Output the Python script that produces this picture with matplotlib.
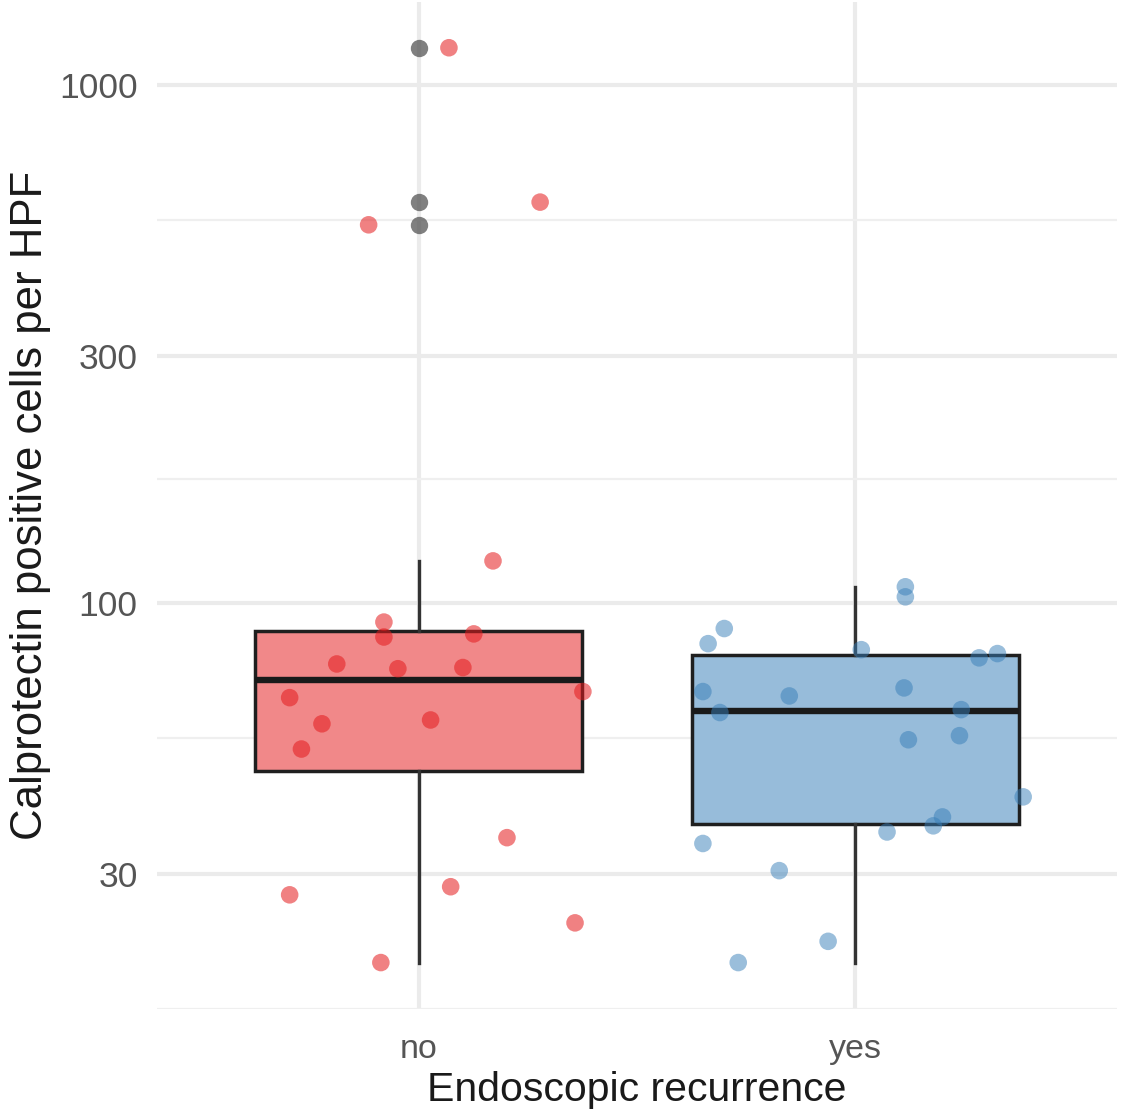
import matplotlib.pyplot as plt
import numpy as np

plt.rcParams['font.family'] = ['Liberation Sans', 'DejaVu Sans']

# calprotectin positive cells per HPF, by endoscopic recurrence
groups = ['no', 'yes']
no_values = [1180, 594, 537, 120.5, 91.8, 85.9, 87.1, 76.2, 74.6, 75.0,
             65.6, 67.4, 58.4, 59.4, 52.2, 35.2, 27.3, 28.3, 24.1, 20.2]
yes_values = [107.4, 102.7, 89.2, 83.4, 81.2, 78.3, 79.8, 67.4, 66.1, 68.5,
              61.4, 62.2, 54.4, 55.4, 42.2, 38.6, 37.1, 36.1, 34.3, 30.4,
              22.2, 20.2]
# horizontal jitter of each point (category units)
no_jitter = [0.069, 0.278, -0.115, 0.170, -0.080, -0.080, 0.126, -0.188, -0.048, 0.101,
             -0.296, 0.376, -0.222, 0.027, -0.269, 0.202, -0.296, 0.073, 0.358, -0.087]
yes_jitter = [0.115, 0.115, -0.300, -0.337, 0.014, 0.284, 0.326, -0.349, -0.151, 0.112,
              -0.310, 0.243, 0.122, 0.239, 0.385, 0.200, 0.179, 0.073, -0.349, -0.174,
              -0.062, -0.268]
yticks = [30, 100, 300, 1000]

fills = ['#E41A1C', '#377EB8']


def log_stats(vals, label):
    # box statistics on the log10 scale, as with a log-transformed axis
    lv = np.log10(vals)
    q1, med, q3 = np.percentile(lv, [25, 50, 75])
    iqr = q3 - q1
    lo_f, hi_f = q1 - 1.5 * iqr, q3 + 1.5 * iqr
    inside = lv[(lv >= lo_f) & (lv <= hi_f)]
    out = lv[(lv < lo_f) | (lv > hi_f)]
    return dict(label=label, med=10 ** med, q1=10 ** q1, q3=10 ** q3,
                whislo=10 ** inside.min(), whishi=10 ** inside.max(),
                fliers=10 ** out)


fig = plt.figure(figsize=(11.26, 11.13), dpi=100)
ax = fig.add_axes([157 / 1126, 1 - 1009 / 1113, 960 / 1126, 1007 / 1113])
ax.set_yscale('log')

stats = [log_stats(no_values, 'no'), log_stats(yes_values, 'yes')]
bp = ax.bxp(stats, positions=[1, 2], widths=0.75, patch_artist=True,
            boxprops=dict(linewidth=2.5, edgecolor='#1f1f1f'),
            medianprops=dict(linewidth=4.6, color='#1a1a1a', solid_capstyle='butt'),
            whiskerprops=dict(linewidth=2.4, color='#333333'),
            capprops=dict(linewidth=0),
            flierprops=dict(marker='o', markersize=12.5, markerfacecolor='#555555',
                            markeredgecolor='none', alpha=0.75),
            zorder=2)
for patch, c in zip(bp['boxes'], fills):
    r, g, b = plt.matplotlib.colors.to_rgb(c)
    a = 0.52
    patch.set_facecolor((1 - a + a * r, 1 - a + a * g, 1 - a + a * b))

ax.scatter(1 + np.array(no_jitter), no_values, s=160, color=fills[0], alpha=0.55,
           edgecolors='none', zorder=3)
ax.scatter(2 + np.array(yes_jitter), yes_values, s=160, color=fills[1], alpha=0.5,
           edgecolors='none', zorder=3)

# axis ranges with 5% padding on the log scale, 0.6 on the discrete axis
allv = np.log10(no_values + yes_values)
span = allv.max() - allv.min()
ax.set_ylim(10 ** (allv.min() - 0.05 * span), 10 ** (allv.max() + 0.05 * span))
ax.set_xlim(0.4, 2.6)

ax.set_yticks(yticks)
ax.set_yticklabels([str(t) for t in yticks])
minor = [np.sqrt(yticks[i] * yticks[i + 1]) for i in range(len(yticks) - 1)]
minor = [yticks[0] ** 2 / minor[0]] + minor
ax.set_yticks(minor, minor=True)
ax.yaxis.set_minor_formatter(plt.NullFormatter())
ax.set_xticks([1, 2])
ax.set_xticklabels(groups)

ax.grid(True, which='major', color='#EBEBEB', linewidth=3.0, zorder=0)
ax.grid(True, which='minor', axis='y', color='#EFEFEF', linewidth=1.6, zorder=0)
ax.set_axisbelow(True)
for s in ax.spines.values():
    s.set_visible(False)
ax.tick_params(which='both', length=0)
ax.tick_params(axis='x', labelsize=24.5, labelcolor='#555555', pad=18)
ax.tick_params(axis='y', labelsize=25.5, labelcolor='#555555', pad=14)

ax.set_xlabel('Endoscopic recurrence', fontsize=29.5, color='#1a1a1a', labelpad=4)
ax.set_ylabel('Calprotectin positive cells per HPF', fontsize=31.5, color='#1a1a1a',
              labelpad=6)

fig.savefig('out.png', dpi=100)
